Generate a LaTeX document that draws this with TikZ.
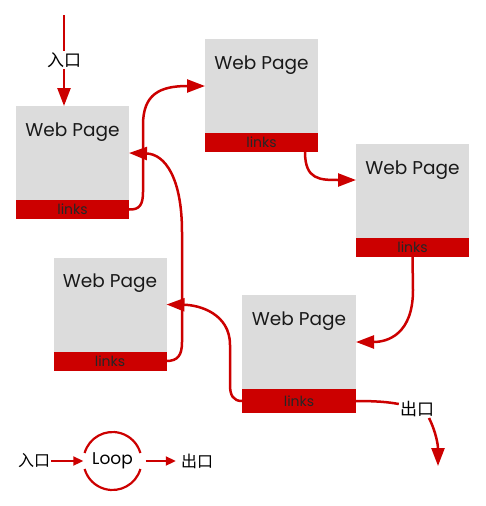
\documentclass[tikz,border=0pt]{standalone}
\usepackage{fontspec}
\setmainfont{Poppins}
\newfontfamily\cjk{Noto Sans CJK SC}
\usetikzlibrary{arrows.meta,calc}
\definecolor{wred}{HTML}{CC0000}
\definecolor{wgray}{HTML}{DCDCDC}
\begin{document}
\begin{tikzpicture}[x=1pt,y=-1pt,
  page/.style={fill=wgray, minimum width=113pt, minimum height=94pt, inner sep=0pt, outer sep=0pt},
  linkbar/.style={fill=wred, minimum width=113pt, minimum height=19pt, inner sep=0pt, outer sep=0pt, font=\fontsize{14}{16}\selectfont, text=black!85},
  title/.style={font=\fontsize{18.5}{22}\selectfont, text=black!90, anchor=base},
  wire/.style={draw=wred, line width=2.5pt},
  conn/.style={wire, -{Triangle[length=18pt,width=13pt]}},
  smallconn/.style={draw=wred, line width=2pt, -{Triangle[length=10pt,width=9pt]}},
  cjklabel/.style={font=\cjk\fontsize{17}{20}\selectfont, inner sep=1pt},
  legendlabel/.style={font=\cjk\fontsize{16}{19}\selectfont, inner sep=1pt}]
\useasboundingbox (0,0) rectangle (485,506);

% pages
\node[page] (pA) at (72.5,153) {};
\node[linkbar, anchor=north] (lA) at (pA.south) {links};
\node[title] (tA) at ($(pA.north)+(0,30)$) {Web Page};

\node[page] (pB) at (261.5,86) {};
\node[linkbar, anchor=north] (lB) at (pB.south) {links};
\node[title] (tB) at ($(pB.north)+(0,30)$) {Web Page};

\node[page] (pC) at (412.5,191) {};
\node[linkbar, anchor=north] (lC) at (pC.south) {links};
\node[title] (tC) at ($(pC.north)+(0,30)$) {Web Page};

\node[page] (pD) at (110,304.5) {};
\node[linkbar, anchor=north] (lD) at (pD.south) {links};
\node[title] (tD) at ($(pD.north)+(0,30)$) {Web Page};

\node[page, minimum width=114pt] (pE) at (299,342) {};
\node[linkbar, anchor=north, minimum width=114pt, minimum height=24pt] (lE) at (pE.south) {links};
\node[title] (tE) at ($(pE.north)+(0,30)$) {Web Page};

% entry
\coordinate (start) at (64,15);
\node[cjklabel] (in1) at (64,60) {入口};
\draw[wire] (start) -- (in1);
\draw[conn] (in1) -- (in1 |- pA.north);

% A -> B
\draw[conn] (lA.east) .. controls (140,210) and (143,204) .. (143,192)
  -- (143,125) .. controls (143,94) and (160,86) .. (pB.west);
% B -> C
\draw[conn] ($(lB.south west)+(100,0)$) .. controls ($(lB.south west)+(100,28)$) and (320,180) .. ($(pC.north west)+(0,36)$);
% C -> E
\draw[conn] (lC.south) -- (413,290) .. controls (413,334) and (388,342) .. (pE.east);
% E -> D
\draw[conn] (lE.west) .. controls (233,401) and (230,395) .. (230,385)
  -- (230,345) .. controls (230,314) and (200,305) .. (pD.east);
% D -> A
\draw[conn] (lD.east) .. controls (178,361) and (182,355) .. (182,342)
  -- (182,232) .. controls (182,178) and (165,154) .. (pA.east);

% exit
\node[cjklabel] (out1) at (417,409) {出口};
\coordinate (exitend) at (438,466);
\draw[wire] (lE.east) .. controls (376,401) and (388,402) .. ($(out1.west)+(0,-5)$);
\draw[conn] ($(out1.south)+(12,0)$) .. controls (436,432) and (438,445) .. (exitend);

% legend
\node[legendlabel] (in2) at (34,461) {入口};
\node[circle, minimum size=58pt, inner sep=0pt, font=\fontsize{17}{20}\selectfont] (loop) at (112.5,461) {Loop};
\node[legendlabel] (out2) at (197,461) {出口};
\draw[wred, line width=2.2pt] ([shift={(16:29)}]loop.center) arc[start angle=16, end angle=164, radius=29];
\draw[wred, line width=2.2pt] ([shift={(196:29)}]loop.center) arc[start angle=196, end angle=344, radius=29];
\draw[smallconn] (in2) -- (loop.west);
\draw[smallconn, shorten >=4pt] ($(loop.east)+(4,0)$) -- (out2.west);
\end{tikzpicture}
\end{document}
